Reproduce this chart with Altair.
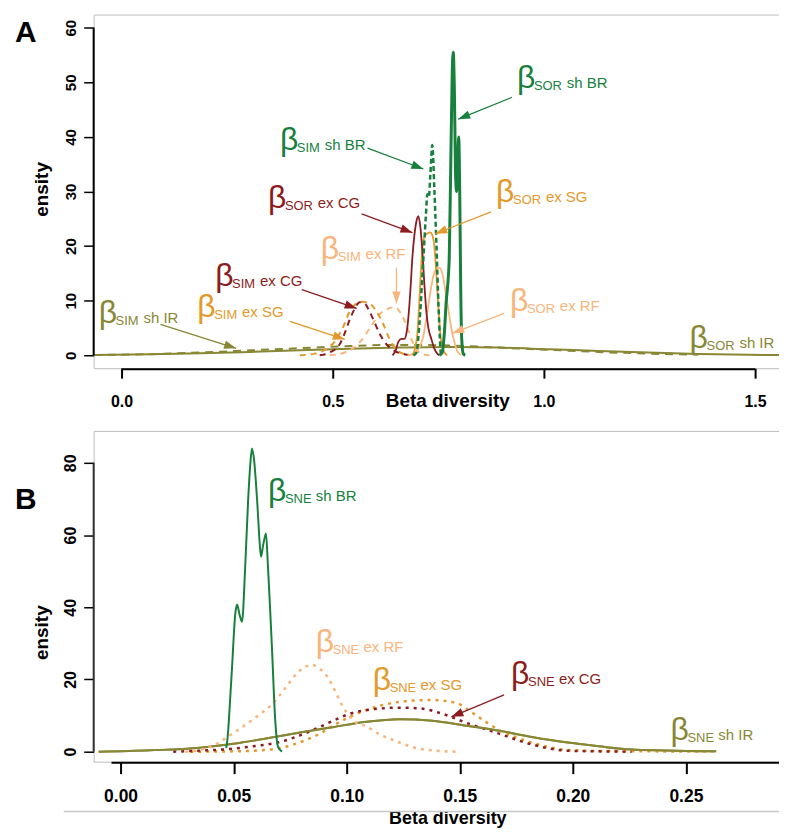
import math
import altair as alt
import pandas as pd

# ---------------- colours / fonts ----------------
GREEN = "#18803d"
RED = "#8c1c20"
ORANGE = "#e39a2a"
PEACH = "#f8b57c"
OLIVE = "#878735"
FONT = "Liberation Sans, Arial, sans-serif"
NARROW = "Liberation Sans Narrow, Arial Narrow, Liberation Sans, sans-serif"

# ---------------- Panel A data (SOR / SIM) ----------------
A_SOR_SH_BR_X = [0.7524, 0.7594, 0.7642, 0.7689, 0.7724, 0.7759, 0.7795, 0.7830, 0.7854, 0.7877,
                 0.7913, 0.7936, 0.7960, 0.7983, 0.8007, 0.8031, 0.8054, 0.8090, 0.8137]
A_SOR_SH_BR_Y = [0, 0.5, 4, 10, 13, 18, 35, 52, 55.5, 50, 32, 30, 36, 40, 30, 12, 3, 0.3, 0]

A_SIM_SH_BR_X = [0.6910, 0.6981, 0.7052, 0.7123, 0.7205, 0.7241, 0.7276, 0.7311, 0.7358, 0.7406,
                 0.7453, 0.7507, 0.7564, 0.7618]
A_SIM_SH_BR_Y = [0, 0.5, 5.7, 14.5, 25.5, 29.5, 29, 33, 38.5, 30.5, 20.8, 8.6, 0.3, 0]

A_SOR_EX_CG_X = [0.6415, 0.6486, 0.6557, 0.6627, 0.6698, 0.6745, 0.6792, 0.6840, 0.6887, 0.6934,
                 0.6981, 0.7028, 0.7075, 0.7123, 0.7170, 0.7217, 0.7264, 0.7335, 0.7406, 0.7476, 0.7524]
A_SOR_EX_CG_Y = [0, 0.8, 2.5, 3, 3, 4, 7, 12, 18, 22, 24.5, 25.5, 23.5, 19, 13, 8, 5, 3, 1.2, 0.3, 0]

A_SOR_EX_SG_X = [0.6887, 0.6958, 0.7005, 0.7052, 0.7099, 0.7146, 0.7193, 0.7241, 0.7311, 0.7358,
                 0.7406, 0.7453, 0.7500, 0.7547, 0.7594, 0.7665, 0.7712]
A_SOR_EX_SG_Y = [0, 1.5, 4, 10, 17, 21, 22, 22.3, 22.5, 22, 20, 15, 9, 4, 1.5, 0.3, 0]

A_SOR_EX_RF_X = [0.6769, 0.6934, 0.7052, 0.7146, 0.7241, 0.7311, 0.7382, 0.7453, 0.7524, 0.7594,
                 0.7665, 0.7736, 0.7807, 0.7877, 0.7948, 0.8042]
A_SOR_EX_RF_Y = [0, 0.3, 1.5, 3.5, 8, 11.5, 14.5, 15.8, 16, 15, 12, 8.5, 5, 2.5, 0.8, 0]

A_SIM_EX_CG_X = [0.4693, 0.4929, 0.5165, 0.5283, 0.5401, 0.5519, 0.5637, 0.5755, 0.5873, 0.5991,
                 0.6108, 0.6274, 0.6462, 0.6698, 0.6887]
A_SIM_EX_CG_Y = [0, 0.5, 2, 4, 6.5, 8.5, 9.7, 9.5, 8, 6, 4, 2, 0.8, 0.2, 0]

A_SIM_EX_SG_X = [0.4222, 0.4575, 0.4811, 0.5047, 0.5236, 0.5401, 0.5566, 0.5708, 0.5873, 0.6038,
                 0.6179, 0.6344, 0.6509, 0.6698, 0.6816]
A_SIM_EX_SG_Y = [0, 0.3, 1, 2.5, 5, 8, 9.5, 9.8, 9.5, 8, 6, 3, 1, 0.2, 0]

A_SIM_EX_RF_X = [0.4929, 0.5283, 0.5519, 0.5755, 0.5920, 0.6108, 0.6297, 0.6462, 0.6627, 0.6769,
                 0.6887, 0.7005, 0.7170, 0.7288]
A_SIM_EX_RF_Y = [0, 0.5, 1.5, 3.5, 5.5, 7.5, 8.5, 8.8, 7.5, 5, 2.5, 0.8, 0.1, 0]

A_SIM_SH_IR_X = [-0.066, 0.0684, 0.1863, 0.3042, 0.4222, 0.5401, 0.6580, 0.7759, 0.8939, 1.0118,
                 1.1297, 1.2476, 1.3656]
A_SIM_SH_IR_Y = [0.05, 0.2, 0.5, 0.9, 1.3, 1.7, 1.9, 1.8, 1.4, 1.0, 0.6, 0.3, 0.1]

A_SOR_SH_IR_X = [-0.066, 0.0684, 0.1863, 0.3042, 0.4222, 0.5401, 0.6580, 0.7759, 0.8939, 1.0118,
                 1.1297, 1.2476, 1.3656, 1.4835, 1.5613]
A_SOR_SH_IR_Y = [0.05, 0.2, 0.35, 0.6, 0.9, 1.2, 1.4, 1.5, 1.4, 1.1, 0.8, 0.5, 0.25, 0.1, 0.03]

# ---------------- Panel B data (SNE) ----------------
B_SNE_SH_BR_X = [0.0467, 0.0471, 0.0476, 0.0485, 0.0493, 0.0507, 0.0515, 0.0526, 0.0537, 0.0551,
                 0.0564, 0.0573, 0.0581, 0.0590, 0.0604, 0.0615, 0.0621, 0.0630, 0.0643, 0.0652,
                 0.0661, 0.0670, 0.0683, 0.0696, 0.0714]
B_SNE_SH_BR_Y = [1, 2.5, 6, 15, 23.4, 38, 40.8, 38, 36, 51, 69.5, 79, 84, 81, 69.5, 58, 54, 57,
                 60.4, 51, 40, 28, 9.7, 1.4, 0]

B_SNE_EX_RF_X = [0.0286, 0.0352, 0.0419, 0.0471, 0.0507, 0.0542, 0.0608, 0.0674, 0.0727, 0.0780,
                 0.0815, 0.0850, 0.0881, 0.0912, 0.0947, 0.0978, 0.1004, 0.1044, 0.1088, 0.1145,
                 0.1203, 0.1256, 0.1308, 0.1388, 0.1485]
B_SNE_EX_RF_Y = [0, 0.5, 2, 4, 5.5, 7, 10, 13.4, 17.5, 21.7, 23.5, 24, 23, 21, 17, 13, 10.5, 8, 7,
                 4.8, 3.3, 2, 1, 0.3, 0]

B_SNE_EX_SG_X = [0.0308, 0.0498, 0.0648, 0.0793, 0.0881, 0.0956, 0.1088, 0.1203, 0.1300, 0.1379,
                 0.1485, 0.1555, 0.1617, 0.1674, 0.1749, 0.1819, 0.1894, 0.1969, 0.2115, 0.2335, 0.2634]
B_SNE_EX_SG_Y = [0, 0.1, 0.5, 2.6, 5, 7.8, 11.6, 13.5, 14.2, 14.3, 13.5, 10.8, 8.2, 6, 4, 2.5, 1.3,
                 0.5, 0.2, 0.1, 0.05]

B_SNE_EX_CG_X = [0.0233, 0.0352, 0.0471, 0.0586, 0.0692, 0.0793, 0.0868, 0.0938, 0.1013, 0.1123,
                 0.1233, 0.1322, 0.1423, 0.1529, 0.1674, 0.1819, 0.1969, 0.2115, 0.2260]
B_SNE_EX_CG_Y = [0, 0.3, 0.7, 1.5, 2.5, 4.5, 6.5, 8.5, 10.5, 11.8, 12.2, 12, 10.5, 8, 5, 2, 0.3, 0.1, 0]

B_SNE_SH_IR_X = [-0.0097, 0.0132, 0.0352, 0.0498, 0.0648, 0.0793, 0.0938, 0.1088, 0.1233, 0.1379,
                 0.1529, 0.1674, 0.1819, 0.1969, 0.2115, 0.2260, 0.2410, 0.2555, 0.2634]
B_SNE_SH_IR_Y = [0, 0.4, 1.1, 2.2, 3.7, 5.3, 6.8, 8.3, 9.0, 8.6, 7.2, 5.8, 4.1, 2.6, 1.5, 0.6, 0.35,
                 0.15, 0.1]

# ---------------- annotation labels ----------------
LAB_A_X = [0.9363, 0.375, 0.3467, 0.8868, 0.4717, 0.2217, 0.1792, 0.9198, -0.0542, 1.345]
LAB_A_Y = [48.9, 37.59, 27.0, 28.1, 17.7, 12.77, 6.93, 8.03, 5.84, 1.28]
LAB_A_SUB = ["SOR", "SIM", "SOR", "SOR", "SIM", "SIM", "SIM", "SOR", "SIM", "SOR"]
LAB_A_REST = ["sh BR", "sh BR", "ex CG", "ex SG", "ex RF", "ex CG", "ex SG", "ex RF", "sh IR", "sh IR"]
LAB_A_COL = [GREEN, GREEN, RED, ORANGE, PEACH, RED, ORANGE, PEACH, OLIVE, OLIVE]

LAB_B_X = [0.0652, 0.0863, 0.1115, 0.1727, 0.2432]
LAB_B_Y = [69.5, 27.6, 17.1, 18.8, 3.3]
LAB_B_SUB = ["SNE", "SNE", "SNE", "SNE", "SNE"]
LAB_B_REST = ["sh BR", "ex RF", "ex SG", "ex CG", "sh IR"]
LAB_B_COL = [GREEN, PEACH, ORANGE, RED, OLIVE]

# arrows: tail (x, y) -> tip (x2, y2)
ARR_A_X = [0.9245, 0.5825, 0.5684, 0.875, 0.6509, 0.4269, 0.3986, 0.9057, 0.0920]
ARR_A_Y = [47.26, 37.96, 25.91, 26.28, 16.06, 12.04, 6.20, 7.66, 5.66]
ARR_A_X2 = [0.7972, 0.7146, 0.6887, 0.7429, 0.6509, 0.5566, 0.5283, 0.7830, 0.2712]
ARR_A_Y2 = [43.25, 34.12, 22.45, 22.26, 9.49, 8.58, 2.92, 4.01, 1.28]
ARR_A_COL = [GREEN, GREEN, RED, ORANGE, PEACH, RED, ORANGE, PEACH, OLIVE]

ARR_B_X = [0.1696]
ARR_B_Y = [15.72]
ARR_B_X2 = [0.1463]
ARR_B_Y2 = [9.66]
ARR_B_COL = [RED]

ARROW_PATH = "M0,0L0.85,2.4L-0.85,2.4Z"


def X(field, scale):
    return alt.X(field, scale=scale)


def Y(field, scale):
    return alt.Y(field, scale=scale)


def line(x, y, xs, ys, color, width, dash=None):
    mk = dict(color=color, strokeWidth=width, interpolate="monotone", clip=True)
    if dash:
        mk["strokeDash"] = dash
    return alt.Chart(pd.DataFrame({"x": x, "y": y})).mark_line(**mk).encode(
        x=X("x:Q", xs), y=Y("y:Q", ys))


def labels(xv, yv, sub, rest, col, xs, ys):
    df = pd.DataFrame({"x": xv, "y": yv, "sub": sub, "rest": rest, "col": col})
    base = alt.Chart(df).encode(x=X("x:Q", xs), y=Y("y:Q", ys),
                                color=alt.Color("col:N", scale=None))
    layers = [
        base.mark_text(align="left", baseline="alphabetic", font=FONT, fontSize=32).encode(text=alt.value("β")),
        base.mark_text(align="left", baseline="alphabetic", font=FONT, fontSize=13, dx=17, dy=2).encode(text="sub:N"),
    ]
    for k, dx in (("SOR", 50), ("SIM", 45), ("SNE", 48)):
        layers.append(base.transform_filter(alt.datum.sub == k).mark_text(
            align="left", baseline="alphabetic", font=FONT, fontSize=15, dx=dx).encode(text="rest:N"))
    return layers


def arrows(x, y, x2, y2, col, xs, ys, ppx, ppy):
    ang = []
    for a, b, c, d in zip(x, y, x2, y2):
        pdx = (c - a) * ppx
        pdy = -(d - b) * ppy
        ang.append(math.degrees(math.atan2(pdx, -pdy)) % 360)
    df = pd.DataFrame({"x": x, "y": y, "x2": x2, "y2": y2, "col": col, "ang": ang})
    shaft = alt.Chart(df).mark_rule(strokeWidth=1.3).encode(
        x=X("x:Q", xs), y=Y("y:Q", ys), x2="x2:Q", y2="y2:Q", color=alt.Color("col:N", scale=None))
    head = alt.Chart(df).mark_point(shape=ARROW_PATH, filled=True, size=100, opacity=1, strokeWidth=0).encode(
        x=X("x2:Q", xs), y=Y("y2:Q", ys),
        angle=alt.Angle("ang:Q", scale=None), color=alt.Color("col:N", scale=None))
    return [shaft, head]


def xaxis(values, fmt, size, pad, tsize, title_y, title_size):
    return alt.Axis(values=values, format=fmt, domain=False, grid=False, ticks=True, tickSize=tsize,
                    tickWidth=2, tickColor="black", labelFont=NARROW, labelFontSize=size,
                    labelFontWeight="bold", labelColor="black", labelPadding=pad, labelFlush=False,
                    labelOverlap=False, title="Beta diversity", titleFont=FONT, titleFontSize=title_size,
                    titleFontWeight="bold", titleColor="black", titleX=355, titleY=title_y,
                    titleBaseline="alphabetic", titleAlign="center")


def yaxis(values, title_y, size):
    return alt.Axis(values=values, format="d", domain=False, grid=False, ticks=True, tickSize=10,
                    tickWidth=1.5, tickColor="black", labelFont=NARROW, labelFontSize=size,
                    labelFontWeight="bold", labelColor="black", labelAngle=270, labelAlign="center",
                    labelBaseline="alphabetic", labelPadding=8, labelFlush=False, labelOverlap=False,
                    title="ensity", titleFont=FONT, titleFontSize=19, titleFontWeight="bold",
                    titleColor="black", titleAngle=270, titleX=-52, titleY=title_y,
                    titleAlign="center", titleBaseline="middle")


# ---------------- Panel A ----------------
WA, HA = 694, 355
XA_DOM = [-0.066, -0.066 + WA / 424]
YA_DOM = [-2.37, 62.41]
xA = alt.Scale(domain=XA_DOM, nice=False, zero=False)
yA = alt.Scale(domain=YA_DOM, nice=False, zero=False)

axA = alt.Chart(pd.DataFrame({"x": A_SOR_SH_IR_X, "y": A_SOR_SH_IR_Y})).mark_line(
    color=OLIVE, strokeWidth=2, interpolate="monotone", clip=True).encode(
    x=alt.X("x:Q", scale=xA, axis=xaxis([0, 0.5, 1.0, 1.5], ".1f", 16, 15, 10, 38, 19)),
    y=alt.Y("y:Q", scale=yA, axis=yaxis([0, 10, 20, 30, 40, 50, 60], 175, 15)))

layersA = [
    axA,
    line(A_SIM_SH_IR_X, A_SIM_SH_IR_Y, xA, yA, OLIVE, 2, [8, 6]),
    line(A_SIM_EX_RF_X, A_SIM_EX_RF_Y, xA, yA, PEACH, 2, [6, 5]),
    line(A_SIM_EX_SG_X, A_SIM_EX_SG_Y, xA, yA, ORANGE, 2, [6, 5]),
    line(A_SIM_EX_CG_X, A_SIM_EX_CG_Y, xA, yA, RED, 2, [6, 5]),
    line(A_SOR_EX_RF_X, A_SOR_EX_RF_Y, xA, yA, PEACH, 1.8),
    line(A_SOR_EX_SG_X, A_SOR_EX_SG_Y, xA, yA, ORANGE, 1.8),
    line(A_SOR_EX_CG_X, A_SOR_EX_CG_Y, xA, yA, RED, 1.8),
    line(A_SIM_SH_BR_X, A_SIM_SH_BR_Y, xA, yA, GREEN, 2.5, [5, 3]),
    line(A_SOR_SH_BR_X, A_SOR_SH_BR_Y, xA, yA, GREEN, 3),
    alt.Chart(pd.DataFrame({"y": [0], "y2": [60]})).mark_rule(color="black", strokeWidth=2).encode(
        x=alt.value(0), y=Y("y:Q", yA), y2="y2:Q"),
    alt.Chart(pd.DataFrame({"x": [0], "x2": [1.5]})).mark_rule(color="black", strokeWidth=2).encode(
        x=X("x:Q", xA), x2="x2:Q", y=alt.value(HA + 1)),
    alt.Chart(pd.DataFrame({"t": ["A"]})).mark_text(
        align="left", baseline="alphabetic", font=FONT, fontSize=30, fontWeight="bold", color="black").encode(
        text="t:N", x=alt.value(-79), y=alt.value(28)),
]
layersA += labels(LAB_A_X, LAB_A_Y, LAB_A_SUB, LAB_A_REST, LAB_A_COL, xA, yA)
layersA += arrows(ARR_A_X, ARR_A_Y, ARR_A_X2, ARR_A_Y2, ARR_A_COL, xA, yA,
                  WA / (XA_DOM[1] - XA_DOM[0]), HA / (YA_DOM[1] - YA_DOM[0]))
panelA = alt.layer(*layersA).properties(width=WA, height=HA)

# ---------------- Panel B ----------------
WB, HB = 694, 332
XB_DOM = [-0.0119, -0.0119 + WB / 2270]
YB_DOM = [-2.76, 88.83]
xB = alt.Scale(domain=XB_DOM, nice=False, zero=False)
yB = alt.Scale(domain=YB_DOM, nice=False, zero=False)

axB = alt.Chart(pd.DataFrame({"x": B_SNE_SH_IR_X, "y": B_SNE_SH_IR_Y})).mark_line(
    color=OLIVE, strokeWidth=2, interpolate="monotone", clip=True).encode(
    x=alt.X("x:Q", scale=xB, axis=xaxis([0, 0.05, 0.10, 0.15, 0.20, 0.25], ".2f", 17.5, 14, 12, 62, 18)),
    y=alt.Y("y:Q", scale=yB, axis=yaxis([0, 20, 40, 60, 80], 202, 16)))

layersB = [
    axB,
    line(B_SNE_EX_SG_X, B_SNE_EX_SG_Y, xB, yB, ORANGE, 2.5, [3, 5]),
    line(B_SNE_EX_CG_X, B_SNE_EX_CG_Y, xB, yB, RED, 2.5, [3, 5]),
    line(B_SNE_SH_IR_X, B_SNE_SH_IR_Y, xB, yB, OLIVE, 2),
    line(B_SNE_EX_RF_X, B_SNE_EX_RF_Y, xB, yB, PEACH, 2.5, [3, 5]),
    line(B_SNE_SH_BR_X, B_SNE_SH_BR_Y, xB, yB, GREEN, 2),
    alt.Chart(pd.DataFrame({"y": [0], "y2": [80]})).mark_rule(color="#333333", strokeWidth=2).encode(
        x=alt.value(0), y=Y("y:Q", yB), y2="y2:Q"),
    alt.Chart(pd.DataFrame({"x": [-0.004]})).mark_rule(color="black", strokeWidth=2).encode(
        x=X("x:Q", xB), x2=alt.value(WB), y=alt.value(HB + 1)),
    alt.Chart(pd.DataFrame({"k": [1]})).mark_rule(color="#c8c8c8", strokeWidth=1.5).encode(
        x=alt.value(-30), x2=alt.value(WB), y=alt.value(382)),
    alt.Chart(pd.DataFrame({"t": ["B"]})).mark_text(
        align="left", baseline="alphabetic", font=FONT, fontSize=30, fontWeight="bold", color="black").encode(
        text="t:N", x=alt.value(-79), y=alt.value(78)),
]
layersB += labels(LAB_B_X, LAB_B_Y, LAB_B_SUB, LAB_B_REST, LAB_B_COL, xB, yB)
layersB += arrows(ARR_B_X, ARR_B_Y, ARR_B_X2, ARR_B_Y2, ARR_B_COL, xB, yB,
                  WB / (XB_DOM[1] - XB_DOM[0]), HB / (YB_DOM[1] - YB_DOM[0]))
panelB = alt.layer(*layersB).properties(width=WB, height=HB)

chart = alt.vconcat(panelA, panelB, spacing=63, bounds="flush").properties(
    padding={"left": 6, "top": 4, "right": -8, "bottom": 0},
    background="white",
).configure_view(stroke="#bdbdbd", strokeWidth=1)

chart.save("out.html", embed_options={"renderer": "svg", "actions": False})
